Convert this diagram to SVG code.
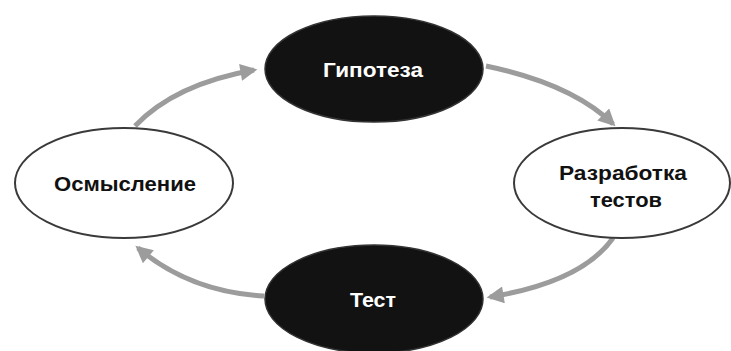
<svg xmlns="http://www.w3.org/2000/svg" width="731" height="351" viewBox="0 0 731 351">
<style>
.dark{fill:#121212;stroke:#333;stroke-width:1.5}
.light{fill:#fff;stroke:#3a3a3a;stroke-width:2}
.conn{fill:none;stroke:#9c9c9c;stroke-width:5;marker-end:url(#ah)}
.t{font-family:"Liberation Sans",Arial,sans-serif;font-weight:bold;font-size:20px;text-anchor:middle}
.tw{fill:#fff}
.tb{fill:#111}
</style>
<defs>
<marker id="ah" viewBox="0 0 10 10" refX="8" refY="5" markerWidth="4" markerHeight="3.4" orient="auto" markerUnits="strokeWidth">
<path d="M0,0 L10,5 L0,10 Z" fill="#9c9c9c"/>
</marker>
</defs>
<rect width="731" height="351" fill="#fff"/>
<g id="connectors">
<path class="conn" d="M135 126 Q175 84 254 70"/>
<path class="conn" d="M486 66 Q572 84 613 124"/>
<path class="conn" d="M613 238 Q582 282 490 297"/>
<path class="conn" d="M264 296 Q190 292 138 248"/>
</g>
<g id="hypothesis">
<ellipse class="dark" cx="374" cy="69" rx="109" ry="53"/>
<text class="t tw" x="373" y="77" textLength="100" lengthAdjust="spacingAndGlyphs">Гипотеза</text>
</g>
<g id="design">
<ellipse class="light" cx="622" cy="183" rx="108" ry="55"/>
<text class="t tb" x="623" y="180" textLength="128" lengthAdjust="spacingAndGlyphs">Разработка</text>
<text class="t tb" x="626" y="207" textLength="72" lengthAdjust="spacingAndGlyphs">тестов</text>
</g>
<g id="test">
<ellipse class="dark" cx="374" cy="299" rx="109" ry="54"/>
<text class="t tw" x="373" y="307" textLength="46" lengthAdjust="spacingAndGlyphs">Тест</text>
</g>
<g id="reflection">
<ellipse class="light" cx="124" cy="183" rx="109" ry="55"/>
<text class="t tb" x="125" y="191" textLength="142" lengthAdjust="spacingAndGlyphs">Осмысление</text>
</g>
</svg>
